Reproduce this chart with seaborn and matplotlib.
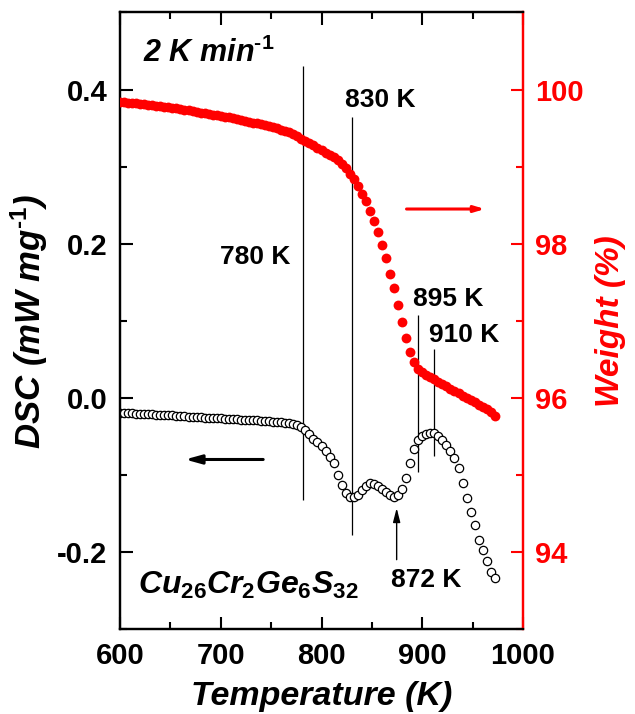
import numpy as np
import pandas as pd
import matplotlib
matplotlib.use("Agg")
import matplotlib.pyplot as plt
from matplotlib.ticker import MultipleLocator, FormatStrFormatter
import seaborn as sns

# ---------------- data ----------------
temperature = [600, 604, 608, 612, 616, 620, 624, 628, 632, 636, 640, 644, 648, 652, 656,
               660, 664, 668, 672, 676, 680, 684, 688, 692, 696, 700, 704, 708, 712, 716,
               720, 724, 728, 732, 736, 740, 744, 748, 752, 756, 760, 764, 768, 772, 776,
               780, 784, 788, 792, 796, 800, 804, 808, 812, 816, 820, 824, 828, 832, 836,
               840, 844, 848, 852, 856, 860, 864, 868, 872, 876, 880, 884, 888, 892, 896,
               900, 904, 908, 912, 916, 920, 924, 928, 932, 936, 940, 944, 948, 952, 956,
               960, 964, 968, 972]

dsc = [-0.0195, -0.0198, -0.0200, -0.0203, -0.0206, -0.0209, -0.0211, -0.0213, -0.0216, -0.0218,
       -0.0221, -0.0223, -0.0226, -0.0229, -0.0232, -0.0236, -0.0240, -0.0243, -0.0246, -0.0250,
       -0.0253, -0.0256, -0.0259, -0.0262, -0.0265, -0.0268, -0.0270, -0.0273, -0.0276, -0.0279,
       -0.0282, -0.0285, -0.0288, -0.0291, -0.0294, -0.0298, -0.0302, -0.0306, -0.0310, -0.0315,
       -0.0320, -0.0326, -0.0332, -0.0340, -0.0350, -0.0375, -0.0415, -0.0470, -0.0530, -0.0578,
       -0.0625, -0.0690, -0.0765, -0.0850, -0.1000, -0.1130, -0.1230, -0.1285, -0.1290, -0.1255,
       -0.1190, -0.1140, -0.1110, -0.1115, -0.1150, -0.1185, -0.1225, -0.1260, -0.1290, -0.1260,
       -0.1180, -0.1040, -0.0840, -0.0660, -0.0550, -0.0500, -0.0470, -0.0455, -0.0460, -0.0490,
       -0.0550, -0.0610, -0.0690, -0.0780, -0.0910, -0.1100, -0.1300, -0.1480, -0.1650, -0.1840,
       -0.1970, -0.2120, -0.2260, -0.2340]

weight = [99.840, 99.835, 99.830, 99.825, 99.820, 99.815, 99.810, 99.800, 99.795, 99.790,
          99.785, 99.775, 99.770, 99.760, 99.755, 99.745, 99.740, 99.730, 99.720, 99.710,
          99.700, 99.695, 99.685, 99.675, 99.665, 99.660, 99.650, 99.640, 99.625, 99.615,
          99.605, 99.595, 99.585, 99.570, 99.560, 99.550, 99.540, 99.525, 99.510, 99.495,
          99.480, 99.460, 99.445, 99.420, 99.395, 99.365, 99.335, 99.305, 99.275, 99.245,
          99.215, 99.180, 99.150, 99.120, 99.080, 99.030, 98.980, 98.910, 98.840, 98.750,
          98.650, 98.550, 98.430, 98.290, 98.150, 97.980, 97.810, 97.610, 97.420, 97.200,
          96.980, 96.780, 96.600, 96.470, 96.380, 96.330, 96.300, 96.270, 96.240, 96.210,
          96.180, 96.150, 96.120, 96.090, 96.060, 96.030, 96.000, 95.970, 95.940, 95.910,
          95.880, 95.850, 95.810, 95.770]

x_ticks = [600, 700, 800, 900, 1000]
dsc_ticks = [-0.2, 0.0, 0.2, 0.4]
weight_ticks = [94, 96, 98, 100]

# marker lines (temperature, DSC bottom, DSC top)
vline_T = [782, 830.6, 896, 911.7]
vline_lo = [-0.132, -0.178, -0.096, -0.075]
vline_hi = [0.430, 0.365, 0.107, 0.063]

labels_text = ["780 K", "830 K", "895 K", "910 K", "872 K"]
labels_T = [734.5, 858.6, 926.0, 941.9, 904.2]
labels_y = [0.183, 0.386, 0.128, 0.082, -0.237]

df = pd.DataFrame({"T": temperature, "DSC": dsc, "W": weight})

# ---------------- style ----------------
sns.set_theme(style="ticks")
plt.rcParams["font.family"] = ["Liberation Sans", "DejaVu Sans"]
plt.rcParams["font.weight"] = "bold"
plt.rcParams["axes.unicode_minus"] = False
plt.rcParams["text.color"] = "black"
plt.rcParams["axes.labelcolor"] = "black"
plt.rcParams["xtick.color"] = "black"
plt.rcParams["ytick.color"] = "black"
plt.rcParams["mathtext.fontset"] = "custom"
plt.rcParams["mathtext.it"] = "Liberation Sans:italic:bold"
plt.rcParams["mathtext.rm"] = "Liberation Sans:bold"
plt.rcParams["mathtext.bf"] = "Liberation Sans:bold"

fig = plt.figure(figsize=(6.35, 7.14), dpi=100)
ax = fig.add_axes([0.189, 0.119, 0.6346, 0.8635])
ax2 = ax.twinx()

sns.scatterplot(data=df, x="T", y="DSC", ax=ax, marker="o", s=36,
                facecolor="white", edgecolor="black", linewidth=0.9, zorder=3)
sns.scatterplot(data=df, x="T", y="W", ax=ax2, marker="o", s=50,
                color="#ff0000", linewidth=0, zorder=3)

ax.set_xlim(600, 1000)
ax.set_ylim(-0.3, 0.5)
ax2.set_ylim(93, 101)

ax.vlines(vline_T, vline_lo, vline_hi, color="black", lw=0.9, zorder=2)

for t, xx, yy in zip(labels_text, labels_T, labels_y):
    ax.text(xx, yy, t, ha="center", va="center", fontsize=19, fontweight="bold")

ax.text(622.8, 0.447, "2 K min$^{\\mathit{\u20101}}$", ha="left", va="center",
        fontsize=22, fontweight="bold", fontstyle="italic")
ax.text(617.9, -0.243, r"$\mathit{Cu_{26}Cr_{2}Ge_{6}S_{32}}$", ha="left", va="center",
        fontsize=23)

# arrows
ax.annotate("", xy=(664.5, -0.080), xytext=(742.1, -0.080),
            arrowprops=dict(arrowstyle="-|>,head_length=0.8,head_width=0.22",
                            color="black", lw=2.2, shrinkA=0, shrinkB=0))
ax2.annotate("", xy=(962.2, 98.45), xytext=(884.4, 98.45),
             arrowprops=dict(arrowstyle="-|>,head_length=0.5,head_width=0.15",
                             color="#ff0000", lw=2.2, shrinkA=0, shrinkB=0))
ax.annotate("", xy=(874.6, -0.143), xytext=(874.6, -0.210),
            arrowprops=dict(arrowstyle="-|>,head_length=0.7,head_width=0.18",
                            color="black", lw=1.0, shrinkA=0, shrinkB=0))

# axes formatting
ax.set_xticks(x_ticks)
ax.set_yticks(dsc_ticks)
ax2.set_yticks(weight_ticks)
ax.xaxis.set_minor_locator(MultipleLocator(50))
ax.yaxis.set_minor_locator(MultipleLocator(0.1))
ax2.yaxis.set_minor_locator(MultipleLocator(1))
ax.yaxis.set_major_formatter(FormatStrFormatter("%.1f"))

ax.tick_params(axis="both", which="major", direction="in", length=9, width=1.5,
               labelsize=21, pad=9, top=True, right=False, colors="black")
ax.tick_params(axis="both", which="minor", direction="in", length=5, width=1.5,
               top=True, right=False, colors="black")
ax2.tick_params(axis="y", which="major", direction="in", length=9, width=1.5,
                labelsize=21, pad=9, colors="#ff0000")
ax2.tick_params(axis="y", which="minor", direction="in", length=5, width=1.5,
                colors="#ff0000")

for a in (ax, ax2):
    for s in a.spines.values():
        s.set_linewidth(1.6)
        s.set_color("black")
    a.spines["right"].set_color("#ff0000")

ax.set_xlabel("Temperature (K)", fontsize=24.5, fontweight="bold", fontstyle="italic", labelpad=8)
ax.set_ylabel("DSC (mW mg$^{\\mathit{\u20101}}$)", fontsize=25, fontweight="bold",
              fontstyle="italic", labelpad=5)
ax2.set_ylabel("Weight (%)", fontsize=24, fontweight="bold", fontstyle="italic",
               color="#ff0000", labelpad=8)

fig.savefig("out.png", dpi=100)
